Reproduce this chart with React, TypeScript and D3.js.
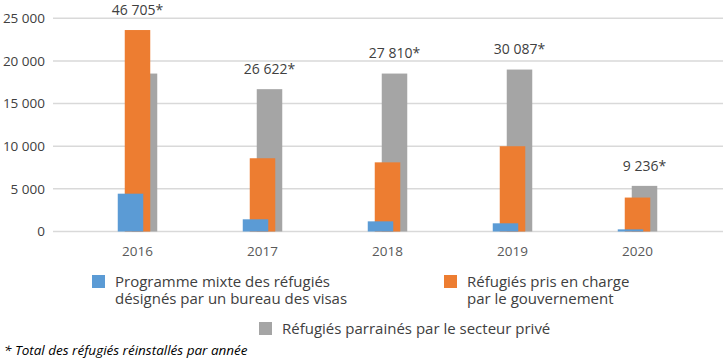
import * as d3 from "d3";

const years = ["2016", "2017", "2018", "2019", "2020"];
const seriesKeys = ["bvor", "gar", "psr"];
const seriesNames = [
  ["Programme mixte des réfugiés", "désignés par un bureau des visas"],
  ["Réfugiés pris en charge", "par le gouvernement"],
  ["Réfugiés parrainés par le secteur privé"],
];
const seriesColors = ["#5b9bd5", "#ed7d31", "#a5a5a5"];
const bvor = [4434, 1430, 1190, 960, 250];
const gar = [23624, 8590, 8110, 10000, 3980];
const psr = [18520, 16690, 18520, 18990, 5350];
const totals = ["46 705*", "26 622*", "27 810*", "30 087*", "9 236*"];
const yTicks = [0, 5000, 10000, 15000, 20000, 25000];

const W = 726;
const H = 364;
const font = "'Open Sans', sans-serif";
const textColor = "#404040";

const fmt = (v: number) => d3.format(",")(v).replace(/,/g, " ");

export default function App() {
  const values = [bvor, gar, psr];
  const x = d3.scaleBand<string>().domain(years).range([75, 700]);
  const offset = d3.scalePoint<string>().domain(seriesKeys).range([-7, 7]);
  const y = d3.scaleLinear().domain([0, 25000]).range([231.5, 18.3]);
  const barW = 25.5;
  const drawOrder = [2, 1, 0];

  return (
    <svg
      width={W}
      height={H}
      style={{ position: "absolute", left: 0, top: 0, background: "#fff" }}
      fontFamily={font}
    >
      {yTicks.map((t) => (
        <g key={t}>
          <line x1={53} x2={723} y1={y(t)} y2={y(t)} stroke="#d9d9d9" strokeWidth={1.5} />
          <text x={45} y={y(t)} dy="0.35em" textAnchor="end" fontSize={13.5} fill={textColor}>
            {fmt(t)}
          </text>
        </g>
      ))}

      {years.map((yr, i) => (
        <g key={yr}>
          {drawOrder.map((s) => {
            const cx = (x(yr) as number) + x.bandwidth() / 2 + (offset(seriesKeys[s]) as number);
            return (
              <rect
                key={s}
                x={cx - barW / 2}
                y={y(values[s][i])}
                width={barW}
                height={y(0) - y(values[s][i])}
                fill={seriesColors[s]}
              />
            );
          })}
          <text
            x={(x(yr) as number) + x.bandwidth() / 2}
            y={251.5}
            dy="0.35em"
            textAnchor="middle"
            fontSize={13.5}
            fill="#595959"
          >
            {yr}
          </text>
        </g>
      ))}

      {years.map((yr, i) => {
        const top = d3.maxIndex(values, (v) => v[i]);
        const cx = (x(yr) as number) + x.bandwidth() / 2 + (offset(seriesKeys[top]) as number);
        return (
          <text
            key={yr}
            x={cx}
            y={y(values[top][i]) - 20}
            dy="0.35em"
            textAnchor="middle"
            fontSize={14}
            fill={textColor}
          >
            {totals[i]}
          </text>
        );
      })}

      {/* legend */}
      {[
        { s: 0, x: 92, y: 275 },
        { s: 1, x: 444, y: 275 },
        { s: 2, x: 259, y: 322 },
      ].map(({ s, x: lx, y: ly }) => (
        <g key={s} transform={`translate(${lx},${ly})`}>
          <rect width={13} height={13} fill={seriesColors[s]} />
          {seriesNames[s].map((line, j) => (
            <text key={j} x={23} y={11.5 + j * 17} fontSize={15} fill={textColor}>
              {line}
            </text>
          ))}
        </g>
      ))}

      <text x={4} y={355} fontSize={13.5} fontStyle="italic" fill="#000">
        * Total des réfugiés réinstallés par année
      </text>
    </svg>
  );
}
